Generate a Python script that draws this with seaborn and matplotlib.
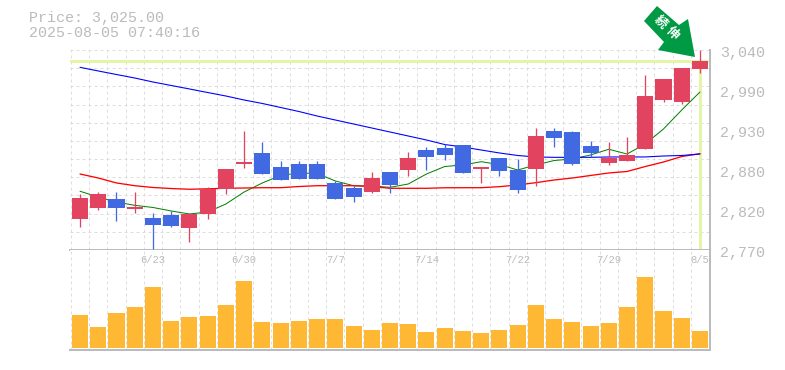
import numpy as np
import pandas as pd
import matplotlib
matplotlib.use('Agg')
import matplotlib.pyplot as plt
from matplotlib.patches import Polygon
import seaborn as sns

# values
opens = [2811.9, 2826.7, 2838.9, 2825.4, 2813.2, 2817.3, 2799.7, 2818.6, 2852.4, 2886.1, 2901.0, 2882.0, 2886.0, 2886.0, 2860.5,
         2853.7, 2848.3, 2875.3, 2878.0, 2905.0, 2907.7, 2911.8, 2879.4, 2894.2, 2878.0, 2879.4, 2930.6, 2929.3, 2910.4, 2887.5,
         2890.0, 2906.0, 2972.5, 2969.8, 3014.4]
closes = [2839.8, 2845.6, 2826.7, 2828.0, 2803.8, 2802.4, 2818.6, 2852.4, 2879.4, 2888.8, 2872.6, 2864.5, 2866.0, 2866.0, 2838.9,
          2841.6, 2867.0, 2857.8, 2894.2, 2895.5, 2898.0, 2874.0, 2882.0, 2876.7, 2851.0, 2924.0, 2921.0, 2886.0, 2901.0, 2894.2,
          2898.3, 2978.0, 3000.9, 3015.7, 3025.0]
highs = [2845.6, 2848.3, 2848.3, 2848.3, 2820.0, 2822.7, 2820.0, 2855.0, 2879.4, 2930.6, 2915.8, 2890.0, 2890.0, 2890.0, 2863.0,
         2856.4, 2875.3, 2875.3, 2902.3, 2909.0, 2913.0, 2911.8, 2882.0, 2894.2, 2892.9, 2934.7, 2934.7, 2930.6, 2917.0, 2915.8,
         2922.5, 3006.0, 3000.9, 3015.7, 3040.0]
lows = [2801.1, 2824.0, 2809.2, 2820.0, 2771.4, 2801.0, 2780.8, 2811.9, 2845.6, 2880.7, 2872.6, 2864.5, 2866.0, 2866.0, 2838.9,
        2834.8, 2847.0, 2847.0, 2869.9, 2878.0, 2891.5, 2874.0, 2860.5, 2869.9, 2847.0, 2856.4, 2909.0, 2884.8, 2895.5, 2884.8,
        2890.0, 2906.0, 2969.8, 2967.0, 3009.0]
ma_green = [2849.3, 2841.5, 2834.8, 2830.3, 2827.4, 2822.7, 2818.6, 2821.3, 2832.1, 2848.3, 2860.5, 2870.6, 2874.0, 2873.3, 2863.2,
            2856.8, 2856.4, 2854.6, 2859.1, 2872.6, 2882.7, 2884.8, 2889.2, 2885.4, 2878.0, 2884.8, 2890.8, 2892.9, 2898.3, 2906.0,
            2899.6, 2913.1, 2933.4, 2959.0, 2983.3]
ma_red = [2872.6, 2867.2, 2860.5, 2856.8, 2854.4, 2853.0, 2852.0, 2852.6, 2853.3, 2853.7, 2854.1, 2854.1, 2855.7, 2856.8, 2856.8,
          2856.8, 2855.7, 2853.3, 2853.3, 2853.3, 2854.0, 2854.1, 2854.1, 2855.5, 2857.8, 2860.9, 2864.5, 2867.2, 2870.6, 2874.0,
          2876.0, 2882.7, 2888.8, 2896.2, 2900.0]
ma_blue = [3016.6, 3011.7, 3006.9, 3002.2, 2996.8, 2992.1, 2987.4, 2982.6, 2977.9, 2972.5, 2967.8, 2962.4, 2957.0, 2950.9, 2945.5,
           2940.1, 2934.7, 2929.3, 2923.9, 2918.5, 2912.4, 2909.0, 2905.0, 2901.0, 2897.6, 2895.6, 2895.1, 2895.1, 2895.1, 2895.6,
           2895.6, 2895.6, 2896.9, 2897.6, 2899.6]
volumes = [33, 21, 35, 41, 61, 27, 31, 32, 43, 67, 26, 25, 27, 29, 29, 22, 18, 25, 24, 16, 20, 17, 15, 18, 23, 43, 29, 26, 22, 25,
           41, 71, 37, 30, 17]
date_ticks = [4, 9, 14, 19, 24, 29, 34]
date_labels = ['6/23', '6/30', '7/7', '7/14', '7/22', '7/29', '8/5']
price_ticks = [3040, 2986, 2932, 2878, 2824, 2770]
price_labels = ['3,040', '2,990', '2,930', '2,880', '2,820', '2,770']

RED = '#e2435f'
BLUE = '#4169e1'
ORANGE = '#ffb833'
LIME = '#e4f5a8'
GRAY = '#bbbbbb'
GRID = '#dddddd'
PX = 0.72  # one pixel in points at dpi 100

sns.set_theme(style='white')
plt.rcParams['font.family'] = ['Liberation Mono', 'Noto Sans CJK JP', 'DejaVu Sans']

W, H = 785, 370
fig = plt.figure(figsize=(W / 100, H / 100), dpi=100)
ax = fig.add_axes([70 / W, 1 - 250 / H, 640 / W, 200 / H])
vol = fig.add_axes([70 / W, 1 - 350 / H, 640 / W, 100 / H], sharex=ax)

df = pd.DataFrame({'i': np.arange(len(opens)), 'open': opens, 'close': closes, 'high': highs, 'low': lows,
                   'green': ma_green, 'red': ma_red, 'blue': ma_blue, 'volume': volumes})
df['color'] = np.where(df['close'] >= df['open'], RED, BLUE)

# dashed background grid, on the half steps between candles
grid_x = np.arange(-0.5, 35, 1)
dash = (0, (3, 3))
for a in (ax, vol):
    a.vlines(grid_x, 0, 1, transform=a.get_xaxis_transform(), color=GRID, lw=PX, ls=dash, zorder=0)
ax.hlines(np.linspace(2770, 3040, 12)[1:], 0, 1, transform=ax.get_yaxis_transform(), color=GRID, lw=PX, ls=dash, zorder=0)

# last price marker lines
last = df['close'].iloc[-1]
ax.axhline(last, color=LIME, lw=3 * PX, zorder=1)
ax.plot([34, 34], [last, 2772], color=LIME, lw=3 * PX, solid_capstyle='butt', zorder=1)

# moving averages sit behind the candles
sns.lineplot(data=df, x='i', y='green', color='green', lw=PX, ax=ax, zorder=3)
sns.lineplot(data=df, x='i', y='red', color='red', lw=1.3 * PX, ax=ax, zorder=3)
sns.lineplot(data=df, x='i', y='blue', color='blue', lw=1.1 * PX, ax=ax, zorder=3)

# candles
ax.vlines(df['i'], df['low'], df['high'], colors=df['color'], lw=1.3 * PX, zorder=4)
ax.bar(df['i'], (df['close'] - df['open']).abs(), bottom=df[['open', 'close']].min(axis=1),
       width=0.88, color=df['color'], lw=0, zorder=4)

# volume
sns.barplot(data=df, x='i', y='volume', native_scale=True, color=ORANGE, width=0.88, saturation=1, lw=0, ax=vol, zorder=2)

ax.set_xlim(-0.55, 34.55)
ax.set_ylim(2770, 3040)
vol.set_ylim(-2, 98)

for a in (ax, vol):
    a.set_xlabel('')
    a.set_ylabel('')
    a.set_yticks([])
    a.tick_params(length=0)
    for s in a.spines.values():
        s.set_visible(False)
    for s in ('right', 'bottom'):
        a.spines[s].set_visible(True)
        a.spines[s].set_color(GRAY)
        a.spines[s].set_linewidth(2 * PX)
ax.tick_params(labelbottom=False)
vol.set_xticks([])

for p, lab in zip(price_ticks, price_labels):
    ax.annotate(lab, xy=(1, p), xycoords=('axes fraction', 'data'), xytext=(10, -3), textcoords='offset pixels',
                ha='left', va='center', fontsize=10.8, color=GRAY, annotation_clip=False)
for i, lab in zip(date_ticks, date_labels):
    vol.annotate(lab, xy=(i, 1), xycoords=('data', 'axes fraction'), xytext=(0, -10), textcoords='offset pixels',
                 ha='center', va='center', fontsize=7.6, color=GRAY, annotation_clip=False)

fig.text(29 / W, 1 - 18 / H, 'Price: 3,025.00', fontsize=10.8, color=GRAY, va='center')
fig.text(29 / W, 1 - 33 / H, '2025-08-05 07:40:16', fontsize=10.8, color=GRAY, va='center')

# green arrow badge
arrow_px = np.array([(657, 6), (644, 21), (664, 42), (658, 50), (695, 57), (688, 19), (679, 25)], dtype=float)
arrow_px[:, 1] = 1 - arrow_px[:, 1] / H
arrow_px[:, 0] = arrow_px[:, 0] / W
fig.add_artist(Polygon(arrow_px, closed=True, transform=fig.transFigure, facecolor='#009944', edgecolor='none', zorder=5))
for (tx, ty), ch in zip([(660, 23), (672, 34)], '続伸'):
    fig.text(tx / W, 1 - ty / H, ch, fontsize=9, color='white', fontweight='bold', rotation=-45,
             ha='center', va='center', rotation_mode='anchor', zorder=6)

fig.savefig('out.png', dpi=100, facecolor='white')
